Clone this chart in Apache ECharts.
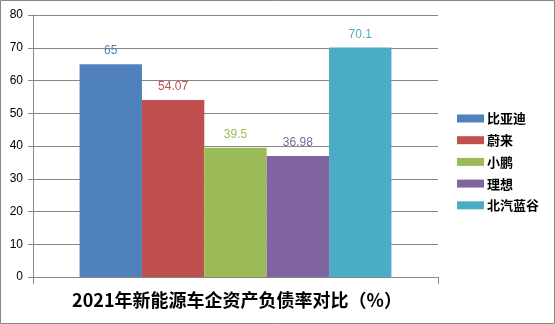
<!DOCTYPE html>
<html><head><meta charset="utf-8">
<script src="https://cdn.jsdelivr.net/npm/echarts@6/dist/echarts.min.js"></script>
<style>html,body{margin:0;padding:0;background:#fff}#c{width:555px;height:324px}</style>
</head><body><div id="c"></div>
<script>
const categories = ['2021'];
const seriesNames = ['比亚迪', '蔚来', '小鹏', '理想', '北汽蓝谷'];
const seriesValues = [65, 54.07, 39.5, 36.98, 70.1];
const colors = ['#4F81BD', '#C0504D', '#9BBB59', '#8064A2', '#4BACC6'];
const yTicks = [0, 10, 20, 30, 40, 50, 60, 70, 80];
const titleText = '2021年新能源车企资产负债率对比（%）';

const chart = echarts.init(document.getElementById('c'), null, {renderer: 'canvas'});
chart.setOption({
  animation: false,
  textStyle: {fontFamily: 'Liberation Sans, Noto Sans CJK SC, sans-serif'},
  grid: {left: 33, right: 117, top: 15, bottom: 47, containLabel: false},
  title: {
    text: titleText, left: 232, top: 286, textAlign: 'center',
    textStyle: {fontSize: 18, fontWeight: 'bold', color: '#000', fontFamily: 'Noto Sans CJK SC, sans-serif'}
  },
  legend: {
    orient: 'vertical', left: 452, top: 107, itemWidth: 27, itemHeight: 8, itemGap: 8.7,
    icon: 'rect',
    textStyle: {fontSize: 13, fontWeight: 'bold', color: '#000', fontFamily: 'Noto Sans CJK SC, sans-serif', padding: [0, 0, 0, -2]},
    data: seriesNames
  },
  xAxis: {
    type: 'category', data: categories,
    axisLine: {lineStyle: {color: '#878787'}},
    axisTick: {show: true, length: 7, lineStyle: {color: '#878787'}},
    axisLabel: {show: false}
  },
  yAxis: {
    type: 'value', min: yTicks[0], max: yTicks[yTicks.length - 1], interval: 10,
    axisLine: {show: true, lineStyle: {color: '#878787'}},
    axisTick: {show: true, length: 5, inside: false, lineStyle: {color: '#878787'}},
    splitLine: {lineStyle: {color: '#878787'}},
    axisLabel: {color: '#000', fontSize: 12, margin: 10}
  },
  series: seriesNames.map((n, i) => ({
    name: n, type: 'bar',
    data: [seriesValues[i]],
    itemStyle: {color: colors[i]},
    barGap: '0%', barCategoryGap: '23%',
    label: {show: true, position: 'top', distance: 7, color: colors[i], fontSize: 12, fontFamily: 'Liberation Sans, sans-serif'}
  })),
  graphic: [{
    type: 'rect', shape: {x: 0.5, y: 0.5, width: 554, height: 323},
    style: {fill: 'none', stroke: '#878787', lineWidth: 1}, silent: true
  }]
});
</script></body></html>
